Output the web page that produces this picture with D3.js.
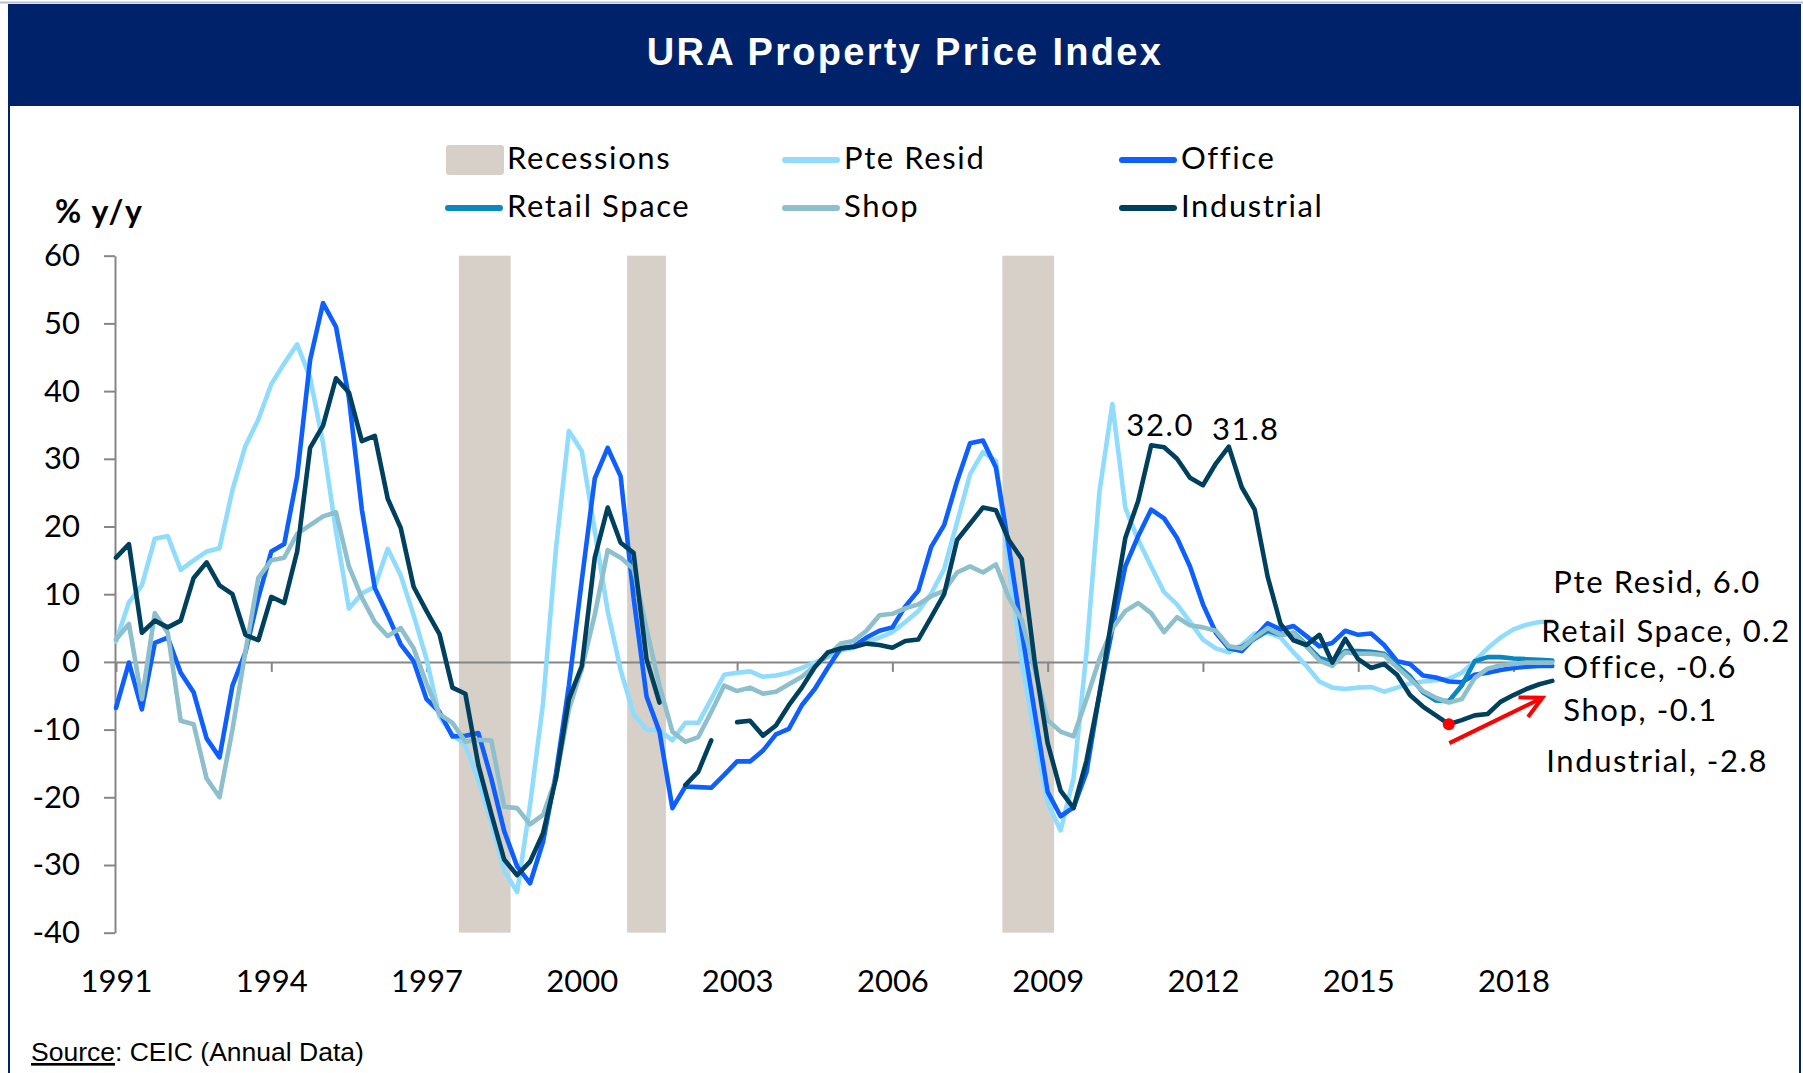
<!DOCTYPE html>
<html>
<head>
<meta charset="utf-8">
<script src="https://cdn.jsdelivr.net/npm/d3@7/dist/d3.min.js"></script>
<style>
  html, body { margin: 0; padding: 0; background: #fff; }
  svg text { font-family: Lato, 'Open Sans', sans-serif; fill: #000; }
  .lbl { font-size: 31px; letter-spacing: 1.6px; }
</style>
</head>
<body>
<svg id="chart" width="1803" height="1073"></svg>
<script>
/* URA property price index, % y/y, quarterly from 1991Q1 */
const startYear = 1991;
const tickYears = [1991, 1994, 1997, 2000, 2003, 2006, 2009, 2012, 2015, 2018];
const yTicks = [-40, -30, -20, -10, 0, 10, 20, 30, 40, 50, 60];

// recession spans, first and last quarter (inclusive)
const recessions = [['1997Q4', '1998Q3'], ['2001Q1', '2001Q3'], ['2008Q2', '2009Q1']];

// two years per row
const pteResid = [
  3.0, 8.8, 11.3, 18.2, 18.6, 13.6, 15.0, 16.3,
  16.8, 25.4, 31.9, 35.8, 41.0, 44.1, 46.9, 42.0,
  32.3, 19.3, 7.9, 10.1, 11.1, 16.7, 12.8, 6.9,
  0.4, -8.1, -10.7, -12.3, -17.5, -23.7, -30.8, -34.0,
  -21.1, -6.1, 16.7, 34.1, 31.1, 19.3, 7.5, -1.2,
  -7.7, -10.0, -10.1, -11.6, -9.0, -9.0, -5.5, -1.9,
  -1.6, -1.4, -2.2, -2.0, -1.6, -0.9, -0.1, 0.7,
  1.7, 2.1, 2.9, 3.6, 4.4, 5.9, 7.5, 10.1,
  13.7, 20.6, 27.7, 31.0, 29.7, 14.0, 0.0, -11.0,
  -20.8, -24.9, -17.2, 1.4, 25.1, 38.1, 22.8, 18.0,
  14.1, 10.3, 8.5, 5.9, 3.3, 2.0, 1.4, 2.5,
  4.2, 4.3, 3.6, 1.4, -0.6, -2.9, -3.8, -4.0,
  -3.8, -3.7, -4.4, -3.8, -3.2, -2.9, -2.7, -2.5,
  -1.6, 0.1, 2.0, 3.6, 4.8, 5.5, 5.9, 6.0
];

const office = [
  -6.8, -0.1, -7.0, 2.8, 3.6, -1.6, -4.5, -11.3,
  -14.1, -3.5, 1.4, 9.5, 16.3, 17.4, 27.4, 44.6,
  53.0, 49.5, 39.0, 22.5, 10.9, 6.9, 2.6, 0.1,
  -5.5, -7.4, -11.0, -10.9, -10.5, -17.2, -25.0, -30.2,
  -32.7, -26.6, -16.5, -3.5, 12.1, 27.1, 31.6, 27.4,
  9.5, -5.1, -10.3, -21.6, -18.4, -18.5, -18.6, -16.7,
  -14.7, -14.7, -13.1, -10.7, -9.9, -6.4, -4.0, -0.9,
  2.0, 2.3, 3.6, 4.6, 5.1, 8.2, 10.5, 17.0,
  20.2, 26.7, 32.3, 32.7, 28.7, 17.0, 4.5, -7.5,
  -19.2, -22.8, -21.5, -16.3, -4.8, 4.9, 14.1, 18.6,
  22.5, 21.2, 18.3, 14.1, 8.5, 4.3, 2.0, 1.6,
  3.6, 5.7, 4.8, 5.3, 3.8, 2.3, 2.8, 4.6,
  4.0, 4.2, 2.5, 0.1, -0.3, -2.0, -2.3, -2.9,
  -3.0, -1.9, -1.6, -1.2, -0.9, -0.7, -0.6, -0.6
];

// no series before 2012Q3
const retailSpace = [
  null, null, null, null, null, null, null, null,
  null, null, null, null, null, null, null, null,
  null, null, null, null, null, null, null, null,
  null, null, null, null, null, null, null, null,
  null, null, null, null, null, null, null, null,
  null, null, null, null, null, null, null, null,
  null, null, null, null, null, null, null, null,
  null, null, null, null, null, null, null, null,
  null, null, null, null, null, null, null, null,
  null, null, null, null, null, null, null, null,
  null, null, null, null, null, null, 2.0, 2.2,
  3.4, 4.6, 4.0, 4.3, 2.5, 0.6, 0.0, 1.6,
  1.6, 1.5, 1.2, -0.5, -2.1, -4.5, -5.7, -5.8,
  -3.5, 0.1, 0.7, 0.7, 0.5, 0.4, 0.3, 0.2
];

const shop = [
  3.3, 5.6, -5.5, 7.2, 4.3, -8.7, -9.2, -17.2,
  -20.0, -10.0, 1.5, 12.4, 15.0, 15.4, 18.9, 20.2,
  21.5, 22.1, 14.1, 9.5, 5.9, 3.8, 5.0, 2.0,
  -3.2, -7.7, -9.0, -11.8, -11.5, -11.6, -21.4, -21.6,
  -24.0, -22.6, -17.2, -7.0, -1.0, 7.0, 16.5, 15.4,
  13.7, 4.9, -3.5, -10.3, -11.8, -11.1, -7.4, -3.5,
  -4.3, -3.8, -4.7, -4.4, -3.3, -2.2, -0.6, 0.9,
  2.7, 3.1, 4.6, 6.9, 7.1, 7.9, 8.5, 9.7,
  10.5, 13.2, 14.1, 13.2, 14.4, 9.5, 6.2, -1.2,
  -8.6, -10.3, -11.0, -5.5, 0.4, 4.9, 7.5, 8.7,
  7.2, 4.4, 6.6, 5.4, 5.1, 4.6, 2.3, 2.0,
  3.6, 5.0, 4.0, 4.3, 2.3, 0.2, -0.6, 1.4,
  1.2, 1.2, 1.0, -0.8, -2.5, -4.3, -5.3, -6.0,
  -5.5, -2.4, -1.0, -0.5, -0.3, -0.1, -0.1, -0.1
];

// gaps in 2001Q4 and 2002Q4
const industrial = [
  15.4, 17.4, 4.3, 6.1, 5.1, 6.1, 12.4, 14.7,
  11.3, 10.0, 4.0, 3.2, 9.6, 8.7, 16.3, 31.6,
  34.9, 41.9, 39.8, 32.6, 33.4, 24.1, 19.8, 11.1,
  7.5, 4.1, -3.8, -4.7, -15.2, -22.4, -29.2, -31.5,
  -29.5, -25.3, -17.2, -5.5, -0.6, 15.4, 22.8, 17.6,
  16.1, 0.4, -6.0, null, -18.2, -16.2, -11.6, null,
  -8.9, -8.7, -10.9, -9.4, -6.4, -3.8, -0.8, 1.4,
  2.0, 2.2, 2.7, 2.5, 2.1, 3.1, 3.3, 6.6,
  10.0, 18.0, 20.4, 22.8, 22.4, 18.0, 15.2, 0.0,
  -12.0, -19.0, -21.6, -14.6, -4.8, 6.9, 18.3, 23.8,
  32.0, 31.7, 30.0, 27.2, 26.1, 29.3, 31.8, 25.8,
  22.5, 12.6, 5.6, 3.2, 2.5, 4.0, -0.1, 3.4,
  0.4, -0.9, -0.3, -1.9, -4.9, -6.6, -7.9, -9.2,
  -8.6, -7.9, -7.7, -5.9, -4.9, -4.0, -3.3, -2.8
];

const seriesNames = ['Pte Resid', 'Office', 'Retail Space', 'Shop', 'Industrial'];
const seriesValues = [pteResid, office, retailSpace, shop, industrial];
const colors = {
  'Recessions': '#d7d0c9',
  'Pte Resid': '#8fdcff',
  'Office': '#0d5fff',
  'Retail Space': '#0a87bf',
  'Shop': '#8dbfcd',
  'Industrial': '#00405f'
};

// plain hyphen for negatives, as in the original
const locale = d3.formatLocale({
  decimal: '.', thousands: ',', grouping: [3], currency: ['$', ''], minus: '-'
});
const fmt1 = locale.format('.1f');
const fmtInt = locale.format('d');

const quarterTime = label => +label.slice(0, 4) + ((+label.slice(5) - 1) / 4);
const timeOf = i => startYear + (i / 4);

const svg = d3.select('#chart');
const W = 1803;
const x = d3.scaleLinear()
  .domain([startYear, timeOf(pteResid.length - 1)])
  .range([116, 1552.3]);
const y = d3.scaleLinear().domain([-40, 60]).range([932.7, 255.7]);

const renderFrame = () => {
  const navy = '#00226a';
  svg.append('rect').attr('width', W).attr('height', 1073).attr('fill', '#fff');
  svg.append('line')
    .attr('x1', 0).attr('x2', W).attr('y1', 2.5).attr('y2', 2.5)
    .attr('stroke', '#b7c1d3').attr('stroke-width', 2);
  svg.append('rect')
    .attr('x', 9).attr('y', 4).attr('width', 1791).attr('height', 102)
    .attr('fill', navy);
  [9, 1800].forEach(bx => {
    svg.append('line')
      .attr('x1', bx).attr('x2', bx).attr('y1', 4).attr('y2', 1073)
      .attr('stroke', navy).attr('stroke-width', 2);
  });
  svg.append('text')
    .attr('x', 905).attr('y', 65)
    .attr('text-anchor', 'middle')
    .style('font-family', "'Liberation Sans', Arial, sans-serif")
    .style('font-weight', 'bold')
    .style('font-size', '38px')
    .style('letter-spacing', '2.3px')
    .style('fill', '#fff')
    .text('URA Property Price Index');

  const source = svg.append('text')
    .attr('x', 31).attr('y', 1061)
    .style('font-family', "'Liberation Sans', Arial, sans-serif")
    .style('font-size', '26.5px');
  source.append('tspan').style('text-decoration', 'underline').text('Source');
  source.append('tspan').text(': CEIC (Annual Data)');
};

const renderRecessions = () => {
  svg.append('g')
    .selectAll('rect')
    .data(recessions)
    .enter()
    .append('rect')
    .attr('x', d => x(quarterTime(d[0]) - 0.125))
    .attr('width', d => x(quarterTime(d[1]) + 0.125) - x(quarterTime(d[0]) - 0.125))
    .attr('y', y(60))
    .attr('height', y(-40) - y(60))
    .attr('fill', colors.Recessions);
};

const renderAxes = () => {
  const yAxis = svg.append('g')
    .attr('transform', `translate(${x(startYear) - 1},0)`)
    .call(d3.axisLeft(y).tickValues(yTicks).tickFormat(fmtInt)
      .tickSize(11).tickSizeOuter(0).tickPadding(24));
  yAxis.selectAll('path, line').attr('stroke', '#868686').attr('stroke-width', 2);
  yAxis.selectAll('text')
    .style('font-family', 'Lato, sans-serif')
    .style('font-size', '31px')
    .attr('fill', '#000');

  const xAxis = svg.append('g')
    .attr('transform', `translate(0,${y(0)})`)
    .call(d3.axisBottom(x).tickValues(tickYears).tickFormat(d3.format('d'))
      .tickSize(10).tickSizeOuter(0));
  xAxis.selectAll('path, line').attr('stroke', '#868686').attr('stroke-width', 2);
  xAxis.selectAll('text')
    .attr('y', 308)
    .style('font-family', 'Lato, sans-serif')
    .style('font-size', '31px')
    .attr('fill', '#000');

  svg.append('text')
    .attr('x', 55).attr('y', 223)
    .style('font-size', '32px')
    .style('font-weight', 'bold')
    .style('letter-spacing', '1.6px')
    .text('% y/y');
};

const renderLines = () => {
  const line = d3.line()
    .defined(d => d.v !== null)
    .x(d => x(d.t))
    .y(d => y(d.v));

  seriesNames.forEach((name, k) => {
    const pts = seriesValues[k].map((v, i) => ({ t: timeOf(i), v }));
    svg.append('path')
      .datum(pts)
      .attr('d', line)
      .attr('fill', 'none')
      .attr('stroke', colors[name])
      .attr('stroke-width', 4.6)
      .attr('stroke-linejoin', 'round')
      .attr('stroke-linecap', 'round');
  });
};

const renderLegend = () => {
  const items = ['Recessions', 'Pte Resid', 'Office', 'Retail Space', 'Shop', 'Industrial'];
  const colX = [446, 783, 1120];
  const rowY = [160, 208];
  const g = svg.append('g').classed('legend', true);
  items.forEach((name, k) => {
    const lx = colX[k % 3];
    const ly = rowY[Math.floor(k / 3)];
    if (name === 'Recessions') {
      g.append('rect')
        .attr('x', lx).attr('y', ly - 15).attr('width', 58).attr('height', 30)
        .attr('rx', 3)
        .attr('fill', colors[name]);
    }
    else {
      g.append('line')
        .attr('x1', lx + 2).attr('x2', lx + 54).attr('y1', ly).attr('y2', ly)
        .attr('stroke', colors[name]).attr('stroke-width', 6)
        .attr('stroke-linecap', 'round');
    }
    g.append('text')
      .classed('lbl', true)
      .attr('x', lx + 61).attr('y', ly + 9)
      .text(name);
  });
};

const renderAnnotations = () => {
  const last = pteResid.length - 1;

  // industrial peaks
  [{ i: 80, dx: 9, dy: -9 }, { i: 86, dx: 17, dy: -7 }].forEach(p => {
    svg.append('text')
      .classed('lbl', true)
      .attr('x', x(timeOf(p.i)) + p.dx)
      .attr('y', y(industrial[p.i]) + p.dy)
      .attr('text-anchor', 'middle')
      .text(fmt1(industrial[p.i]));
  });

  // end-of-series labels, offsets from the last point
  const endOffsets = {
    'Pte Resid': [1, -28],
    'Retail Space': [-11, -19],
    'Office': [11, 12],
    'Shop': [11, 58],
    'Industrial': [-6, 91]
  };
  seriesNames.forEach((name, k) => {
    const v = seriesValues[k][last];
    const off = endOffsets[name];
    svg.append('text')
      .classed('lbl', true)
      .attr('x', x(timeOf(last)) + off[0])
      .attr('y', y(v) + off[1])
      .text(`${name}, ${fmt1(v)}`);
  });

  // trough marker and rising arrow
  const trough = 103;
  svg.append('circle')
    .attr('cx', x(timeOf(trough)))
    .attr('cy', y(industrial[trough]))
    .attr('r', 6)
    .attr('fill', '#ff0000');

  const tail = [x(2016.76), y(-12.0)];
  const tip = [x(2018.56), y(-5.3)];
  const ang = Math.atan2(tip[1] - tail[1], tip[0] - tail[0]);
  const wing = a => [tip[0] - (24 * Math.cos(ang + a)), tip[1] - (24 * Math.sin(ang + a))];
  const w1 = wing(0.47);
  const w2 = wing(-0.47);
  svg.append('path')
    .attr('d', `M${tail}L${tip}M${w1}L${tip}L${w2}`)
    .attr('fill', 'none')
    .attr('stroke', '#ff0000')
    .attr('stroke-width', 4)
    .attr('stroke-linecap', 'butt');
};

const main = () => {
  renderFrame();
  renderRecessions();
  renderAxes();
  renderLines();
  renderLegend();
  renderAnnotations();
};

main();
</script>
</body>
</html>
